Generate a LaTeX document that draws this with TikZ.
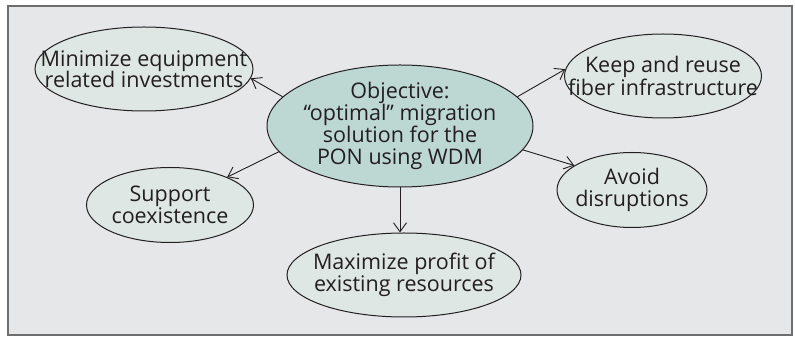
\documentclass[tikz,border=0pt]{standalone}
\usepackage{fontspec}
\setmainfont{Open Sans}
\usetikzlibrary{shapes.geometric,arrows.meta}

\definecolor{panel}{HTML}{E6E7E9}
\definecolor{frameline}{HTML}{6E6E6E}
\definecolor{ink}{HTML}{231F20}
\definecolor{mainfill}{HTML}{BDD7D3}
\definecolor{goalfill}{HTML}{DEE7E4}

\begin{document}
\begin{tikzpicture}[x=1pt, y=1pt, font=\fontsize{21.5}{21.5}\selectfont, text=ink,
  goal/.style={ellipse, draw=ink, line width=1pt, fill=goalfill, inner sep=0pt,
    label={[align=center, inner sep=0pt]center:#1}},
  link/.style={draw=ink, line width=0.9pt, -{Straight Barb[length=9pt, width=13pt]}}]
\useasboundingbox (0,0) rectangle (795,337);
\draw[frameline, line width=1.8pt, fill=panel] (8,2) rectangle (792,331);

\node[goal={Objective:\\``optimal'' migration\\solution for the\\PON using WDM},
  fill=mainfill, minimum width=266, minimum height=122] (obj) at (400,211) {};
\node[goal={Minimize equipment\\related investments},
  minimum width=218, minimum height=84] (min) at (144,268) {};
\node[goal={Keep and reuse\\fiber infrastructure},
  minimum width=197, minimum height=84] (keep) at (663,261) {};
\node[goal={Avoid\\disruptions},
  minimum width=150, minimum height=75] (avoid) at (632,147) {};
\node[goal={Support\\coexistence},
  minimum width=167, minimum height=75] (support) at (170,132) {};
\node[goal={Maximize profit of\\existing resources},
  minimum width=234, minimum height=84] (max) at (404,62) {};

\draw[link] (obj.166) -- (min.-5);
\draw[link] (obj.14) -- (keep.176);
\draw[link] (obj.-11) -- (avoid.157);
\draw[link] (obj.192) -- (support.26);
\draw[link] (obj.south) -- (obj.south |- max.north);
\end{tikzpicture}
\end{document}
